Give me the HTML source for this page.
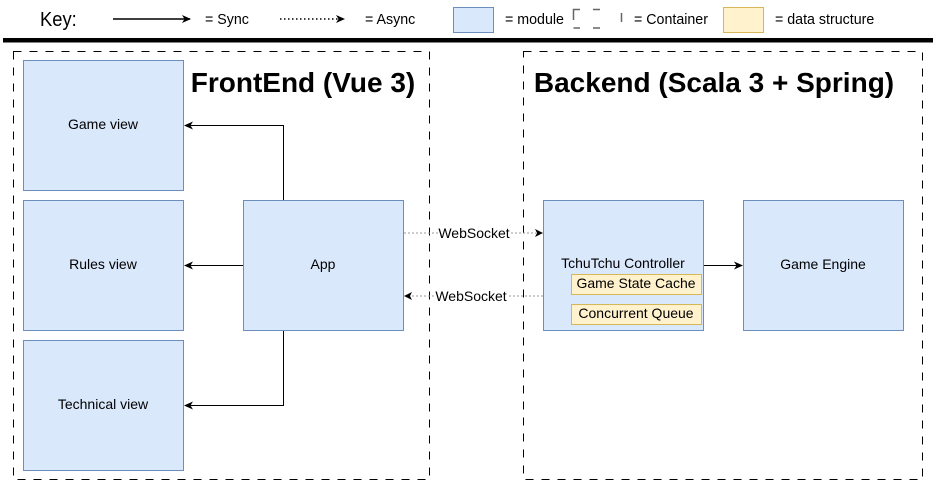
<!DOCTYPE html>
<html><head><meta charset="utf-8"><style>html,body{margin:0;padding:0;background:#fff}svg{display:block}</style></head><body>
<svg width="937" height="481" viewBox="0 0 937 481" xmlns="http://www.w3.org/2000/svg" font-family="Liberation Sans, sans-serif">
<defs>
<marker id="a" markerWidth="10" markerHeight="10" refX="8" refY="5" orient="auto" markerUnits="userSpaceOnUse"><path d="M0,1 L9,5 L0,9 L2.5,5 Z" fill="#000"/></marker>
</defs>
<g font-family="Liberation Sans Narrow, Liberation Sans, sans-serif">
<text x="40" y="26" font-size="20" transform="translate(40,0) scale(0.92,1) translate(-40,0)">Key:</text>
<line x1="113" y1="19" x2="190" y2="19" stroke="#000" stroke-width="1.5" marker-end="url(#a)"/>
<text x="205" y="24" font-size="15" transform="translate(205,0) scale(0.95,1) translate(-205,0)">= Sync</text>
<line x1="280" y1="19" x2="344" y2="19" stroke="#000" stroke-width="1.5" stroke-dasharray="1.5 2.5" marker-end="url(#a)"/>
<text x="365" y="24" font-size="15" transform="translate(365,0) scale(0.95,1) translate(-365,0)">= Async</text>
<rect x="453.5" y="7.5" width="40" height="25" fill="#dae8fc" stroke="#6c8ebf"/>
<text x="505" y="24" font-size="15" transform="translate(505,0) scale(0.95,1) translate(-505,0)">= module</text>
<path d="M573.5,20 V9.5 H580 M593,9.5 H600 M573.5,28 H580 M593,28 H600 M621.5,13 V22" stroke="#666" stroke-width="1.5" fill="none"/>
<text x="634" y="24" font-size="15" transform="translate(634,0) scale(0.95,1) translate(-634,0)">= Container</text>
<rect x="723.5" y="7.5" width="40" height="25" fill="#fff2cc" stroke="#d6b656"/>
<text x="775" y="24" font-size="15" transform="translate(775,0) scale(0.95,1) translate(-775,0)">= data structure</text>
</g>
<rect x="3" y="38" width="930" height="4.5" fill="#000"/>
<rect x="13.5" y="51.5" width="416" height="428" fill="none" stroke="#000" stroke-dasharray="8 8"/>
<rect x="523.5" y="51.5" width="399" height="428" fill="none" stroke="#000" stroke-dasharray="8 8"/>
<text x="303" y="92" font-size="28" font-weight="bold" text-anchor="middle">FrontEnd (Vue 3)</text>
<text x="714" y="92" font-size="28" font-weight="bold" text-anchor="middle">Backend (Scala 3 + Spring)</text>
<g fill="#dae8fc" stroke="#6c8ebf">
<rect x="23.5" y="60.5" width="160" height="130"/>
<rect x="23.5" y="200.5" width="160" height="130"/>
<rect x="23.5" y="340.5" width="160" height="130"/>
<rect x="243.5" y="200.5" width="160" height="130"/>
<rect x="543.5" y="200.5" width="160" height="130"/>
<rect x="743.5" y="200.5" width="160" height="130"/>
</g>
<g font-size="14" text-anchor="middle">
<text x="103" y="129">Game view</text>
<text x="103" y="269">Rules view</text>
<text x="103" y="409">Technical view</text>
<text x="323" y="269">App</text>
<text x="623" y="268">TchuTchu Controller</text>
<text x="823" y="269">Game Engine</text>
</g>
<g fill="#fff2cc" stroke="#d6b656">
<rect x="571.5" y="274.5" width="130" height="20"/>
<rect x="571.5" y="304.5" width="130" height="20"/>
</g>
<g font-size="14" text-anchor="middle">
<text x="636" y="288">Game State Cache</text>
<text x="636" y="318">Concurrent Queue</text>
</g>
<g stroke="#000" stroke-width="1" fill="none">
<path d="M283.5,200 V125.5 H185" marker-end="url(#a)"/>
<path d="M243,265.5 H185" marker-end="url(#a)"/>
<path d="M283.5,331 V405.5 H185" marker-end="url(#a)"/>
<path d="M704,265.5 H742" marker-end="url(#a)"/>
</g>
<g stroke="#999" stroke-dasharray="2 2" fill="none">
<path d="M404,233 H438 M511,233 H536"/>
<path d="M543,296 H509 M434,296 H412"/>
</g>
<path d="M543,233 L535,229 L537,233 L535,237 Z" fill="#000"/>
<path d="M404,296 L412,292 L410,296 L412,300 Z" fill="#000"/>
<g font-size="14" text-anchor="middle">
<text x="474" y="238">WebSocket</text>
<text x="471" y="301">WebSocket</text>
</g>
</svg>
</body></html>
